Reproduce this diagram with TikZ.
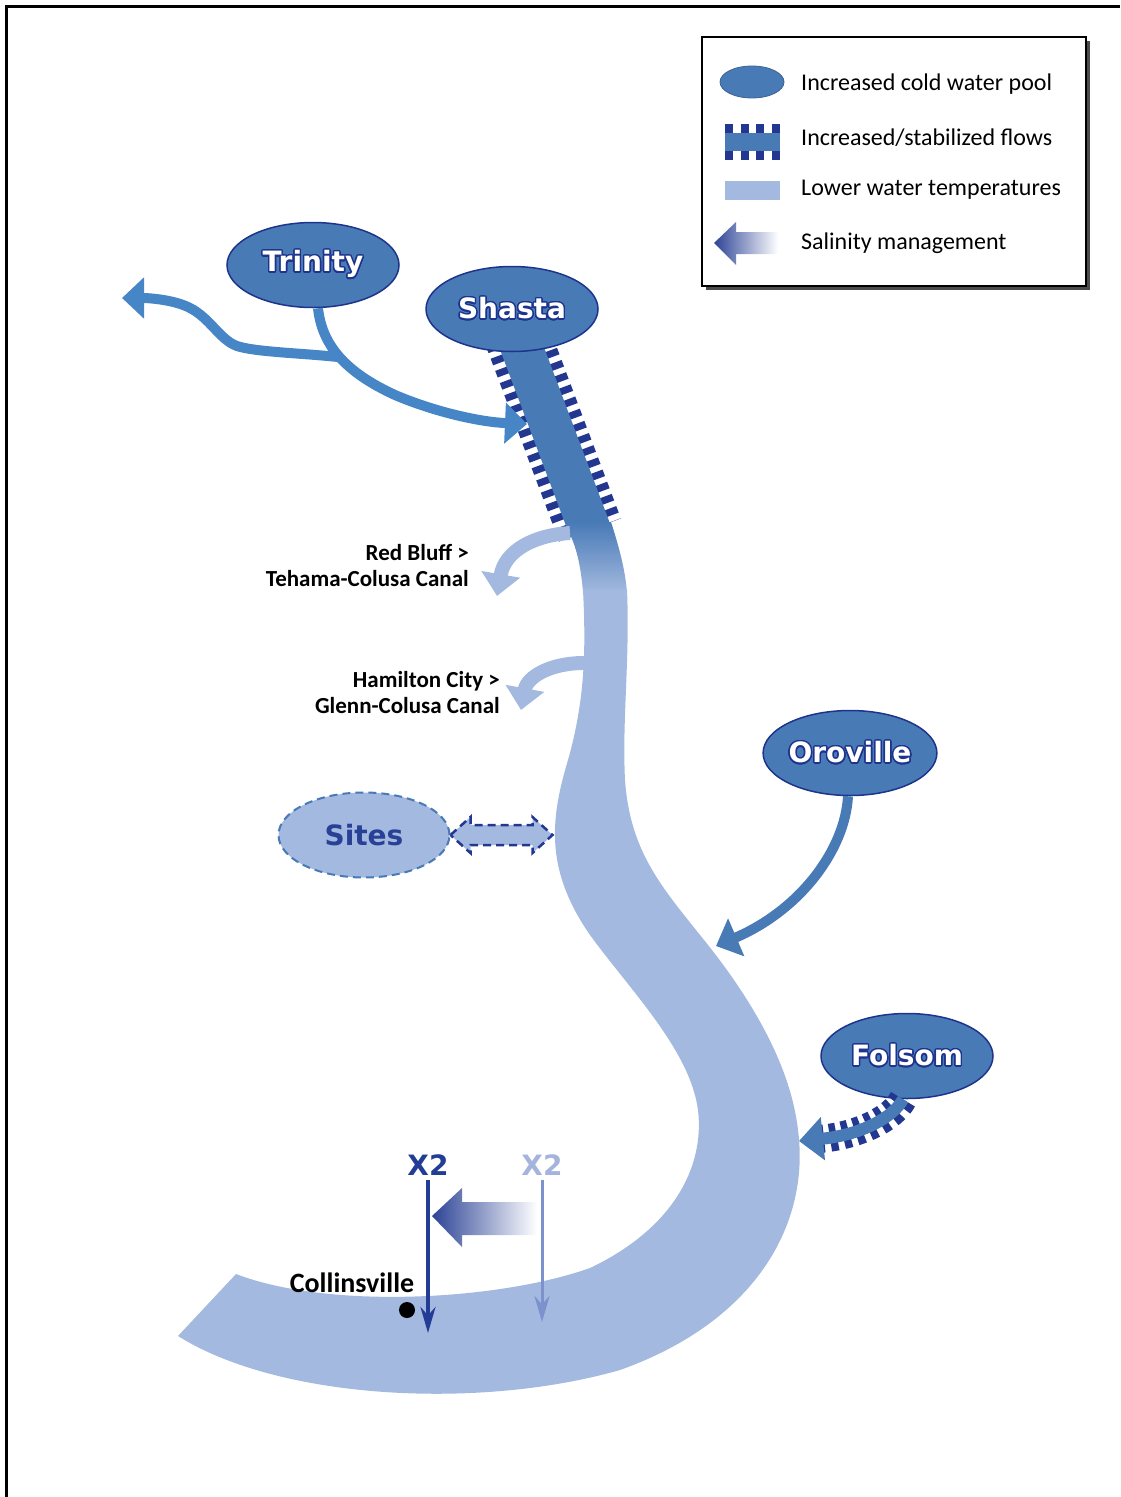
\documentclass[tikz,border=0pt]{standalone}
\usepackage{fontspec}
\setmainfont{Carlito}
\newfontfamily\verd{DejaVu Sans}
\usepackage{contour}
\contourlength{1.4pt}
\contournumber{24}
\usetikzlibrary{shapes.geometric,arrows.meta,positioning}

\definecolor{resfill}{RGB}{72,122,182}
\definecolor{resline}{RGB}{30,52,140}
\definecolor{hatchblue}{RGB}{35,55,145}
\definecolor{riverlight}{RGB}{163,185,223}
\definecolor{feedblue}{RGB}{70,133,198}
\definecolor{sitesblue}{RGB}{40,65,150}
\definecolor{x2dark}{RGB}{35,60,150}
\definecolor{x2pale}{RGB}{165,180,220}
\definecolor{x2line}{RGB}{125,145,205}
\definecolor{salnavy}{RGB}{45,68,150}

\tikzset{
  reservoir/.style={ellipse, draw=resline, line width=1.5pt, fill=resfill,
    minimum width=172pt, minimum height=85pt, inner sep=0pt, text=white,
    font=\verd\bfseries\fontsize{28}{30}\selectfont},
  feeder/.style={draw=feedblue, line width=10pt, -{Triangle[length=22pt,width=40pt]}},
  canal/.style={draw=riverlight, line width=14pt, -{Triangle[length=22pt,width=38pt]}},
  hatchdash/.style={draw=hatchblue, dash pattern=on 7pt off 6pt},
  lbl/.style={font=\bfseries\fontsize{23}{26}\selectfont, align=right, inner sep=0pt, anchor=east},
  legtext/.style={font=\fontsize{24}{26}\selectfont, anchor=west, inner sep=0pt},
  xlabel/.style={font=\verd\bfseries\fontsize{28}{30}\selectfont, inner sep=0pt},
}

\begin{document}
\begin{tikzpicture}[x=1pt,y=-1pt]
  \useasboundingbox (0,0) rectangle (1120,1497);
  % frame
  \draw[line width=3pt] (6,1497) -- (6,6) -- (1120,6);

  % river below Shasta
  \draw[hatchdash, line width=66pt] (517,335) -- (590,530);
  \draw[resfill, line width=42pt] (517,335) -- (590,530);
  \shade[top color=resfill, bottom color=riverlight]
    (568,522) -- (611,522) .. controls (620,550) and (625,570) .. (627,592) -- (583,592) .. controls (581,570) and (578,550) .. (568,530) -- cycle;
  \fill[riverlight] (583,590) .. controls (586,650) and (585,700) .. (568,760)
    .. controls (550,820) and (545,870) .. (590,935)
    .. controls (630,990) and (690,1050) .. (698,1110)
    .. controls (705,1170) and (670,1230) .. (590,1268)
    .. controls (500,1300) and (330,1310) .. (236,1274)
    -- (178,1336)
    .. controls (280,1400) and (480,1410) .. (620,1370)
    .. controls (760,1320) and (810,1220) .. (798,1130)
    .. controls (790,1060) and (745,990) .. (700,935)
    .. controls (660,885) and (630,850) .. (625,780)
    .. controls (622,720) and (630,660) .. (627,590) -- cycle;

  % reservoirs
  \node[reservoir] (trinity) at (313,265) {\contour{resline}{Trinity}};
  \node[reservoir] (shasta) at (512,309) {\contour{resline}{Shasta}};
  \node[reservoir] (oroville) at (850,753) {\contour{resline}{Oroville}};
  \node[reservoir] (folsom) at (907,1056) {\contour{resline}{Folsom}};
  \node[ellipse, draw=resfill, dash pattern=on 8pt off 5pt, line width=2pt,
    fill=riverlight, minimum width=171pt, minimum height=85pt, inner sep=0pt,
    text=sitesblue, font=\verd\bfseries\fontsize{28}{30}\selectfont]
    (sites) at (364,835) {Sites};

  % Trinity diversions
  \coordinate (fork) at (338,357);
  \coordinate (westend) at (122,298);
  \coordinate (shastain) at (527,424);
  \draw[feeder] ([xshift=5pt]trinity.south) .. controls (322,345) and (345,372) .. (395,395)
    .. controls (435,412) and (480,422) .. (shastain);
  \draw[feeder] (fork) .. controls (300,353) and (255,352) .. (237,346)
    .. controls (220,340) and (210,318) .. (190,308)
    .. controls (175,300) and (150,298) .. (westend);

  % canals
  \node[lbl] (redbluff) at (469,565) {Red Bluff >\\Tehama-Colusa Canal};
  \node[lbl] (hamilton) at (500,693) {Hamilton City >\\Glenn-Colusa Canal};
  \coordinate (rbout) at (570,533);
  \coordinate (rbtip) at (497,596);
  \coordinate (hcout) at (584,663);
  \coordinate (hctip) at (521,710);
  \draw[canal] (rbout) .. controls (535,535) and (505,550) .. (rbtip);
  \draw[canal] (hcout) .. controls (550,663) and (527,677) .. (hctip);

  % Sites link
  \draw[draw=hatchblue, fill=riverlight, line width=2.5pt, dash pattern=on 8pt off 5pt]
    (sites.east) -- ++(20,-18) -- ++(0,8) -- ++(62,0) -- ++(0,-8) -- ++(20,18)
    -- ++(-20,18) -- ++(0,-8) -- ++(-62,0) -- ++(0,8) -- cycle;

  % Oroville
  \coordinate (orotip) at (716,946);
  \draw[feeder, draw=resfill] ([xshift=-2pt]oroville.south) .. controls (845,850) and (800,910) .. (orotip);

  % Folsom
  \coordinate (foltip) at (799,1141);
  \draw[hatchblue, line width=28pt, dash pattern=on 7pt off 6pt, shorten >=22pt] ([xshift=-4pt]folsom.south)
    .. controls (893,1118) and (860,1135) .. (foltip);
  \draw[draw=resfill, line width=12pt, -{Triangle[length=24pt,width=42pt]}]
    ([xshift=-4pt]folsom.south) .. controls (893,1118) and (860,1135) .. (foltip);

  % X2 and Collinsville
  \node[xlabel, text=x2dark] (x2new) at (428,1165) {X2};
  \node[xlabel, text=x2pale] (x2old) at (542,1165) {X2};
  \coordinate (x2newend) at (428,1333);
  \coordinate (x2oldend) at (542,1322);
  \draw[x2line, line width=3pt, -{Stealth[length=26pt,width=15pt]}] ([yshift=-4pt]x2old.south) -- (x2oldend);
  \draw[x2dark, line width=3.5pt, -{Stealth[length=26pt,width=15pt]}] ([yshift=-4pt]x2new.south) -- (x2newend);
  \shade[left color=salnavy, right color=white]
    (432,1216) -- (462,1188) -- (462,1202) -- (537,1202) -- (537,1235)
    -- (462,1235) -- (462,1247) -- cycle;
  \node[circle, fill=black, minimum size=16pt, inner sep=0pt] (collpt) at (407,1310) {};
  \node[font=\bfseries\fontsize{28}{30}\selectfont, inner sep=0pt] (coll) at (352,1283) {Collinsville};

  % legend
  \fill[black!70] (706,41) rectangle (1090,290);
  \draw[line width=1.5pt, fill=white] (702,37) rectangle (1086,286);
  \node[ellipse, fill=resfill, draw=resfill!80!black, line width=0.8pt, minimum width=64pt,
    minimum height=32pt, inner sep=0pt] (legpool) at (752,82) {};
  \draw[hatchblue, line width=36pt, dash pattern=on 8pt off 7.5pt] (725,142) -- (780,142);
  \draw[resfill, line width=18pt] (725,142) -- (780,142);
  \fill[riverlight] (725,181) rectangle (780,200);
  \shade[left color=salnavy, right color=white]
    (714,243) -- (736,222) -- (736,232) -- (778,232) -- (778,254)
    -- (736,254) -- (736,265) -- cycle;
  \node[legtext] (leg1) at (801,84) {Increased cold water pool};
  \node[legtext] (leg2) at (801,138) {Increased/stabilized flows};
  \node[legtext] (leg3) at (801,190) {Lower water temperatures};
  \node[legtext] (leg4) at (801,243) {Salinity management};
\end{tikzpicture}
\end{document}
